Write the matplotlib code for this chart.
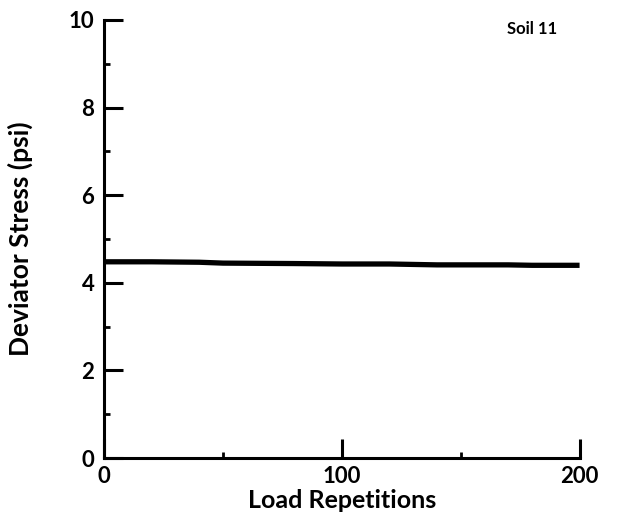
import numpy as np
import matplotlib.pyplot as plt
from matplotlib.ticker import MultipleLocator

# readings
reps = [0, 20, 40, 45, 50, 80, 100, 120, 130, 140, 150, 160, 170, 180, 190, 200]
stress = [4.48, 4.48, 4.47, 4.46, 4.45, 4.44, 4.43, 4.43, 4.42, 4.41,
          4.41, 4.41, 4.41, 4.40, 4.40, 4.40]

plt.rcParams['font.family'] = ['Lato', 'DejaVu Sans']
plt.rcParams['font.weight'] = 'bold'
plt.rcParams['axes.labelweight'] = 'bold'

fig = plt.figure(figsize=(6.39, 5.23), dpi=100)
ax = fig.add_axes([0.163, 0.124, 0.744, 0.838])

ax.plot(reps, stress, color='black', linewidth=3.8, solid_capstyle='butt')

ax.set_xlim(0, 200)
ax.set_ylim(0, 10)
ax.xaxis.set_major_locator(MultipleLocator(100))
ax.xaxis.set_minor_locator(MultipleLocator(50))
ax.yaxis.set_major_locator(MultipleLocator(2))
ax.yaxis.set_minor_locator(MultipleLocator(1))
ax.tick_params(which='major', direction='in', length=14, width=2.2, labelsize=16, pad=7)
ax.tick_params(which='minor', direction='in', length=4, width=2)
ax.tick_params(axis='x', pad=6)
for s in ['top', 'right']:
    ax.spines[s].set_visible(False)
for s in ['left', 'bottom']:
    ax.spines[s].set_linewidth(2.2)

ax.set_xlabel('Load Repetitions', fontsize=18, labelpad=1)
ax.set_ylabel('Deviator Stress (psi)', fontsize=19, labelpad=26)
ax.text(180, 9.8, 'Soil 11', fontsize=12, ha='center', va='center')

fig.savefig('out.png', dpi=100)
